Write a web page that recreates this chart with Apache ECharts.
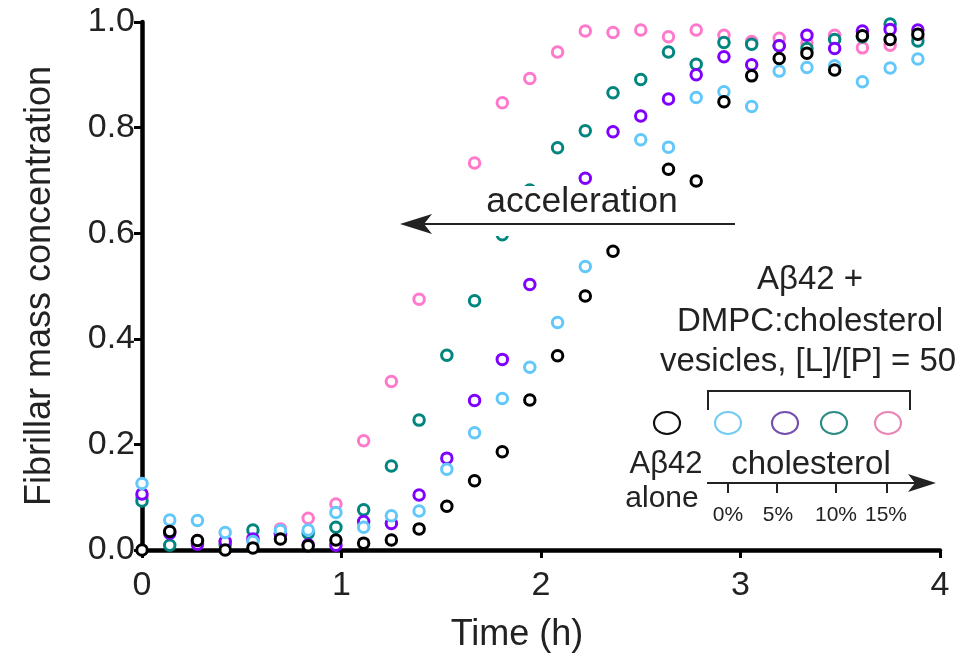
<!DOCTYPE html>
<html>
<head>
<meta charset="utf-8">
<script src="https://cdn.jsdelivr.net/npm/echarts@6/dist/echarts.min.js"></script>
<style>html,body{margin:0;padding:0;background:#fff}#c{width:965px;height:661px}</style>
</head>
<body>
<div id="c"></div>
<script>
// Time points (h)
var times = [0, 0.139, 0.278, 0.417, 0.556, 0.694, 0.833, 0.972, 1.111, 1.25, 1.389, 1.528, 1.667, 1.806, 1.944, 2.083, 2.222, 2.361, 2.5, 2.639, 2.778, 2.917, 3.056, 3.194, 3.333, 3.472, 3.611, 3.75, 3.889];
// Fibrillar mass concentration
var aloneVals = [0.0, 0.035, 0.018, 0.0, 0.004, 0.021, 0.008, 0.019, 0.013, 0.019, 0.04, 0.083, 0.131, 0.186, 0.284, 0.368, 0.481, 0.566, 0.65, 0.721, 0.699, 0.849, 0.898, 0.931, 0.941, 0.909, 0.974, 0.967, 0.977];
var chol0Vals = [0.126, 0.057, 0.056, 0.033, 0.016, 0.037, 0.038, 0.071, 0.043, 0.065, 0.074, 0.153, 0.222, 0.287, 0.346, 0.431, 0.537, 0.66, 0.777, 0.763, 0.857, 0.868, 0.840, 0.907, 0.914, 0.917, 0.887, 0.913, 0.930];
var chol5Vals = [0.106, 0.032, 0.011, 0.016, 0.021, 0.03, 0.01, 0.009, 0.054, 0.05, 0.104, 0.174, 0.283, 0.361, 0.503, 0.61, 0.704, 0.792, 0.822, 0.854, 0.900, 0.934, 0.919, 0.955, 0.975, 0.950, 0.983, 0.986, 0.985];
var chol10Vals = [0.093, 0.009, 0.015, 0.01, 0.038, 0.032, 0.032, 0.043, 0.076, 0.159, 0.246, 0.369, 0.472, 0.597, 0.682, 0.762, 0.794, 0.866, 0.891, 0.943, 0.920, 0.961, 0.958, 0.955, 0.950, 0.967, 0.972, 0.996, 0.964];
var chol15Vals = [0.10, 0.035, 0.018, 0.016, 0.022, 0.040, 0.060, 0.087, 0.207, 0.319, 0.475, 0.62, 0.733, 0.847, 0.893, 0.943, 0.983, 0.980, 0.985, 0.972, 0.985, 0.975, 0.963, 0.969, 0.96, 0.975, 0.951, 0.956, 0.97];
var yTicks = [0.0, 0.2, 0.4, 0.6, 0.8, 1.0];
var xTicks = [0, 1, 2, 3, 4];

function pairs(vals) { return times.map(function (t, i) { return [t, vals[i]]; }); }
function ser(name, vals, color) {
  return {
    name: name, type: 'scatter', data: pairs(vals), clip: false,
    symbol: 'circle', symbolSize: 10.5,
    itemStyle: { color: '#fff', borderColor: color, borderWidth: 3, opacity: 1 },
    emphasis: { disabled: true }
  };
}
var txt = '#222';
var FONT = '"Liberation Sans", Arial, sans-serif';
function T(x, y, s, size, align) {
  return { type: 'text', x: x, y: y, z: 110,
    style: { text: s, font: size + 'px ' + FONT, fill: txt, textAlign: align || 'center', textVerticalAlign: 'middle' } };
}
var chart = echarts.init(document.getElementById('c'), null, { renderer: 'canvas' });
chart.setOption({
  animation: false,
  backgroundColor: '#fff',
  grid: { left: 142, right: 25, top: 22, bottom: 111, containLabel: false },
  xAxis: {
    type: 'value', min: 0, max: 4, interval: 1,
    name: 'Time (h)', nameLocation: 'middle', nameGap: 67,
    nameTextStyle: { fontSize: 36, color: txt, fontFamily: FONT, padding: [0, 48, 0, 0] },
    axisLine: { lineStyle: { color: '#000', width: 4.5 } },
    axisTick: { show: true, inside: false, length: 8, lineStyle: { color: '#000', width: 3 } },
    axisLabel: { fontSize: 34, color: txt, fontFamily: FONT, margin: 19,
      formatter: function (v) { return xTicks.indexOf(v) >= 0 ? String(v) : ''; } },
    splitLine: { show: false }
  },
  yAxis: {
    type: 'value', min: 0, max: 1, interval: 0.2,
    name: 'Fibrillar mass concentration', nameLocation: 'middle', nameGap: 84, nameRotate: 90,
    nameTextStyle: { fontSize: 36, color: txt, fontFamily: FONT },
    axisLine: { show: true, lineStyle: { color: '#000', width: 4.5 } },
    axisTick: { show: true, inside: false, length: 8, lineStyle: { color: '#000', width: 3 } },
    axisLabel: { fontSize: 34, color: txt, fontFamily: FONT, margin: 7,
      formatter: function (v) { var k = yTicks.indexOf(Math.round(v * 10) / 10); return k >= 0 ? yTicks[k].toFixed(1) : ''; } },
    splitLine: { show: false }
  },
  series: [
    ser('15%', chol15Vals, '#ff78cb'),
    ser('10%', chol10Vals, '#00857f'),
    ser('5%', chol5Vals, '#8000ff'),
    ser('0%', chol0Vals, '#62c8fb'),
    ser('alone', aloneVals, '#000000')
  ],
  graphic: { elements: [
    // masks behind annotation
    { type: 'rect', z: 100, shape: { x: 484, y: 186, width: 196, height: 32 }, style: { fill: '#fff' } },
    { type: 'rect', z: 100, shape: { x: 398, y: 212, width: 340, height: 24 }, style: { fill: '#fff' } },
    T(582, 202, 'acceleration', 35.5),
    { type: 'line', z: 110, shape: { x1: 424, y1: 224, x2: 735, y2: 224 }, style: { stroke: '#222', lineWidth: 2 } },
    { type: 'polygon', z: 110, shape: { points: [[400, 224], [432, 214], [424, 224], [432, 234]] }, style: { fill: '#222' } },
    // legend
    T(810, 280, 'A\u03b242 +', 33),
    T(810, 322, 'DMPC:cholesterol', 33),
    T(808, 362, 'vesicles, [L]/[P] = 50', 33),
    { type: 'polyline', z: 110, shape: { points: [[708, 410], [708, 391], [910, 391], [910, 410]] }, style: { stroke: '#222', lineWidth: 2, fill: null } },
    { type: 'ellipse', z: 110, shape: { cx: 667, cy: 423, rx: 13, ry: 11 }, style: { stroke: '#111', lineWidth: 2.2, fill: null } },
    { type: 'ellipse', z: 110, shape: { cx: 728, cy: 423, rx: 13, ry: 11 }, style: { stroke: '#74cdf0', lineWidth: 2.2, fill: null } },
    { type: 'ellipse', z: 110, shape: { cx: 785, cy: 423, rx: 13, ry: 11 }, style: { stroke: '#7450b0', lineWidth: 2.2, fill: null } },
    { type: 'ellipse', z: 110, shape: { cx: 834, cy: 423, rx: 13, ry: 11 }, style: { stroke: '#2e8b86', lineWidth: 2.2, fill: null } },
    { type: 'ellipse', z: 110, shape: { cx: 888, cy: 423, rx: 13, ry: 11 }, style: { stroke: '#e886b8', lineWidth: 2.2, fill: null } },
    T(666, 464, 'A\u03b242', 31),
    T(662, 499, 'alone', 30),
    T(811, 465, 'cholesterol', 33),
    { type: 'line', z: 110, shape: { x1: 707, y1: 483, x2: 916, y2: 483 }, style: { stroke: '#222', lineWidth: 2.2 } },
    { type: 'polygon', z: 110, shape: { points: [[936, 483], [908, 474], [915, 483], [908, 492]] }, style: { fill: '#222' } },
    { type: 'line', z: 110, shape: { x1: 728, y1: 483, x2: 728, y2: 493 }, style: { stroke: '#222', lineWidth: 2 } },
    { type: 'line', z: 110, shape: { x1: 777, y1: 483, x2: 777, y2: 493 }, style: { stroke: '#222', lineWidth: 2 } },
    { type: 'line', z: 110, shape: { x1: 836, y1: 483, x2: 836, y2: 493 }, style: { stroke: '#222', lineWidth: 2 } },
    { type: 'line', z: 110, shape: { x1: 887, y1: 483, x2: 887, y2: 493 }, style: { stroke: '#222', lineWidth: 2 } },
    T(728, 515, '0%', 21),
    T(778, 515, '5%', 21),
    T(836, 515, '10%', 21),
    T(886, 515, '15%', 21)
  ] }
});
</script>
</body>
</html>
